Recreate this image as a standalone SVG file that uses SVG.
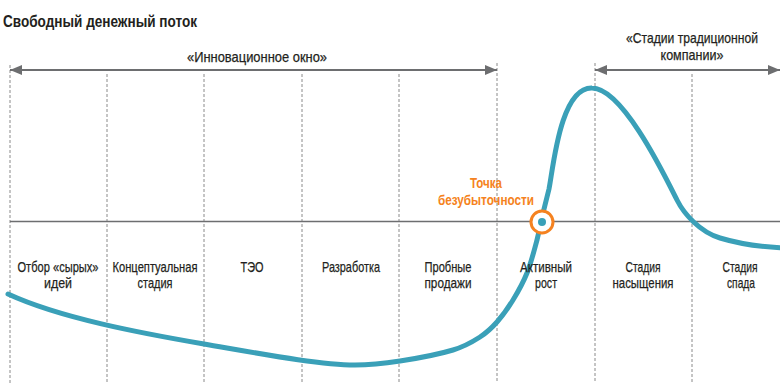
<svg xmlns="http://www.w3.org/2000/svg" width="780" height="383" viewBox="0 0 780 383">
<style>
  .t { font-family: "Liberation Sans", Arial, sans-serif; fill: #231f20; stroke: #231f20; stroke-width: 0.25; font-size: 15px; text-anchor: middle; }
  .title { font-family: "Liberation Sans", Arial, sans-serif; fill: #231f20; font-size: 16.5px; font-weight: bold; }
  .orange { font-family: "Liberation Sans", Arial, sans-serif; fill: #f58220; font-size: 15px; font-weight: bold; text-anchor: middle; }
  .dash { stroke: #8a8a8a; stroke-width: 1; stroke-dasharray: 3 2; fill: none; }
  .axis { stroke: #6d6e70; stroke-width: 1.5; fill: none; }
  .span { stroke: #6d6e70; stroke-width: 2; fill: none; marker-start: url(#ah); marker-end: url(#ah); }
  .curve { stroke: #3aa0b8; stroke-width: 5; fill: none; stroke-linecap: round; }
</style>
<defs>
  <marker id="ah" viewBox="0 0 12 10" refX="12" refY="5" markerWidth="12" markerHeight="10" markerUnits="userSpaceOnUse" orient="auto-start-reverse">
    <path d="M0,0 L12,5 L0,10 Z" fill="#6d6e70"/>
  </marker>
</defs>
<rect width="780" height="383" fill="#ffffff"/>
<text class="title" x="3" y="27" textLength="194" lengthAdjust="spacingAndGlyphs">Свободный денежный поток</text>
<g id="grid">
  <line class="dash" x1="10" y1="65" x2="10" y2="383"/>
  <line class="dash" x1="107" y1="74" x2="107" y2="383"/>
  <line class="dash" x1="204" y1="74" x2="204" y2="383"/>
  <line class="dash" x1="302" y1="74" x2="302" y2="383"/>
  <line class="dash" x1="399" y1="74" x2="399" y2="383"/>
  <line class="dash" x1="497" y1="63" x2="497" y2="383"/>
  <line class="dash" x1="595" y1="63" x2="595" y2="383"/>
  <line class="dash" x1="692" y1="74" x2="692" y2="383"/>
  <line class="axis" x1="10" y1="221.5" x2="780" y2="221.5"/>
</g>
<g id="connectors">
  <line class="span" x1="10" y1="70" x2="497" y2="70"/>
  <line class="span" x1="595" y1="70" x2="780" y2="70"/>
  <path class="curve" d="M8,294 C60,318 140,333 204,344 C260,353.6 320,365 355,365 C371.3,365 383.7,363.5 400,361 C416.3,358.5 439.7,354 453,350 C466.3,346 472.7,341.7 480,337 C487.3,332.3 491.5,328.2 497,322 C502.5,315.8 508,308.2 513,300 C518,291.8 523,283 527,273 C531,263 534.7,248.7 537,240 C539.3,231.3 539.3,227.7 541,221 C543,213 549,189 549,189 C553,170 560,87 592,88 C622,88 663,172 677,200 C684,214 700,232 720,238 C740,244 760,247 784,248"/>
</g>
<g id="innovation-window">
  <text class="t" x="257" y="62" textLength="140" lengthAdjust="spacingAndGlyphs">«Инновационное окно»</text>
</g>
<g id="traditional-stages">
  <text class="t" x="692" y="43" textLength="132" lengthAdjust="spacingAndGlyphs">«Стадии традиционной</text>
  <text class="t" x="692" y="60" textLength="63" lengthAdjust="spacingAndGlyphs">компании»</text>
</g>
<g id="breakeven">
  <text class="orange" x="486" y="188" textLength="32" lengthAdjust="spacingAndGlyphs">Точка</text>
  <text class="orange" x="486" y="205" textLength="96" lengthAdjust="spacingAndGlyphs">безубыточности</text>
  <circle cx="542" cy="222" r="11" fill="#ffffff" stroke="#f58220" stroke-width="3"/>
  <circle cx="542" cy="222" r="4" fill="#3aa0b8"/>
</g>
<g id="stage-1"><text class="t" x="58" y="272" textLength="81" lengthAdjust="spacingAndGlyphs">Отбор «сырых»</text><text class="t" x="58" y="288" textLength="28" lengthAdjust="spacingAndGlyphs">идей</text></g>
<g id="stage-2"><text class="t" x="155" y="272" textLength="85" lengthAdjust="spacingAndGlyphs">Концептуальная</text><text class="t" x="155" y="288" textLength="35" lengthAdjust="spacingAndGlyphs">стадия</text></g>
<g id="stage-3"><text class="t" x="252" y="272" textLength="23" lengthAdjust="spacingAndGlyphs">ТЭО</text></g>
<g id="stage-4"><text class="t" x="351" y="272" textLength="58" lengthAdjust="spacingAndGlyphs">Разработка</text></g>
<g id="stage-5"><text class="t" x="448" y="272" textLength="47" lengthAdjust="spacingAndGlyphs">Пробные</text><text class="t" x="448" y="288" textLength="47" lengthAdjust="spacingAndGlyphs">продажи</text></g>
<g id="stage-6"><text class="t" x="546" y="272" textLength="52" lengthAdjust="spacingAndGlyphs">Активный</text><text class="t" x="546" y="288" textLength="22" lengthAdjust="spacingAndGlyphs">рост</text></g>
<g id="stage-7"><text class="t" x="643" y="272" textLength="35" lengthAdjust="spacingAndGlyphs">Стадия</text><text class="t" x="643" y="288" textLength="61" lengthAdjust="spacingAndGlyphs">насыщения</text></g>
<g id="stage-8"><text class="t" x="740" y="272" textLength="35" lengthAdjust="spacingAndGlyphs">Стадия</text><text class="t" x="741" y="288" textLength="28" lengthAdjust="spacingAndGlyphs">спада</text></g>
</svg>
